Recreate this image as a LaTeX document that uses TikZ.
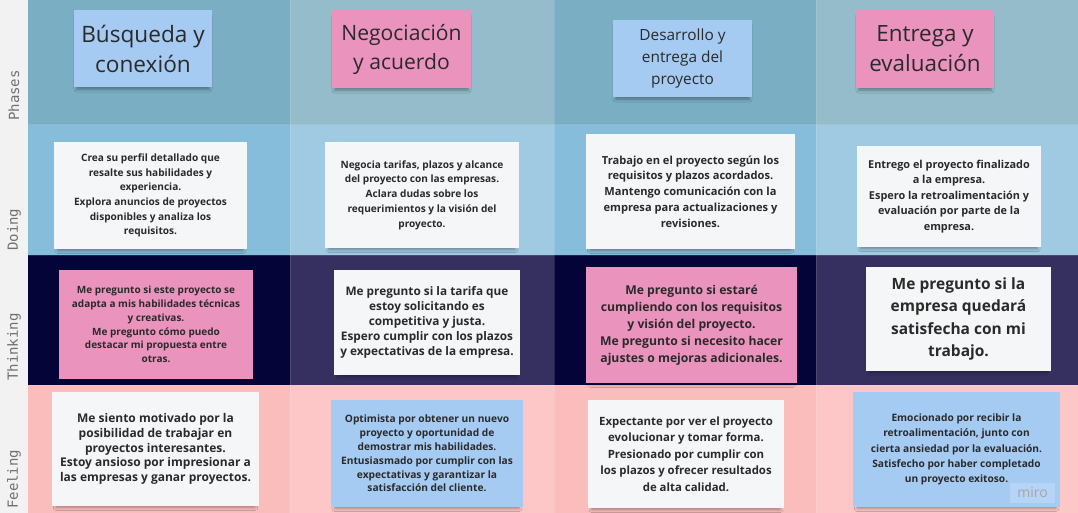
\documentclass[tikz,border=0pt]{standalone}
\usepackage{fontspec}
\setmainfont{Open Sans}
\setmonofont{DejaVu Sans Mono}
\usetikzlibrary{shadows.blur}
\definecolor{labelbg}{HTML}{F2F2F2}
\definecolor{phA}{HTML}{7AAEC3}
\definecolor{phB}{HTML}{94BCCB}
\definecolor{doA}{HTML}{86BDDB}
\definecolor{doB}{HTML}{A0CAE2}
\definecolor{thA}{HTML}{050438}
\definecolor{thB}{HTML}{353060}
\definecolor{feA}{HTML}{FBBCBC}
\definecolor{feB}{HTML}{FCC7C6}
\definecolor{sblue}{HTML}{A6CBF3}
\definecolor{spink}{HTML}{EA94BD}
\definecolor{swhite}{HTML}{F5F6F8}
\definecolor{txt}{HTML}{2A2A2A}
\definecolor{lbl}{HTML}{707070}
\tikzset{
  sticky/.style={inner sep=0pt, align=center, text=txt,
    blur shadow={shadow xshift=0pt, shadow yshift=-4pt, shadow blur radius=3pt, shadow opacity=35, shadow scale=0.96}},
  phasetxt/.style 2 args={font=\fontsize{#1}{#2}\selectfont},
  cardtxt/.style 2 args={font=\fontsize{#1}{#2}\selectfont\bfseries},
  rowlabel/.style={rotate=90, anchor=west, inner sep=0pt, text=lbl, font=\ttfamily\fontsize{14}{16}\selectfont},
  gridline/.style={white, opacity=0.12, line width=1pt}
}
\begin{document}
\begin{tikzpicture}[x=1pt,y=-1pt]
\useasboundingbox (0,0) rectangle (1078,513);
% backgrounds
\fill[labelbg] (0,0) rectangle (28,513);
\fill[phA] (28,0) rectangle (290,125);
\fill[phB] (290,0) rectangle (554,125);
\fill[phA] (554,0) rectangle (816,125);
\fill[phB] (816,0) rectangle (1078,125);
\fill[doA] (28,125) rectangle (290,255);
\fill[doB] (290,125) rectangle (554,255);
\fill[doA] (554,125) rectangle (816,255);
\fill[doB] (816,125) rectangle (1078,255);
\fill[thA] (28,255) rectangle (290,385);
\fill[thB] (290,255) rectangle (554,385);
\fill[thA] (554,255) rectangle (816,385);
\fill[thB] (816,255) rectangle (1078,385);
\fill[feA] (28,385) rectangle (290,513);
\fill[feB] (290,385) rectangle (554,513);
\fill[feA] (554,385) rectangle (816,513);
\fill[feB] (816,385) rectangle (1078,513);
\foreach \yy in {125,255,385} \draw[gridline] (28,\yy) -- (1078,\yy);
\foreach \xx in {290,554,816} \draw[gridline] (\xx,0) -- (\xx,513);
% row labels
\node[rowlabel] (lp) at (14,121) {Phases};
\node[rowlabel] (ld) at (14,251) {Doing};
\node[rowlabel] (lt) at (14,381) {Thinking};
\node[rowlabel] (lf) at (14,509) {Feeling};
% phases
\node[sticky, fill=sblue, minimum width=138pt, minimum height=77pt, phasetxt={22.6}{30}] (p1) at (143,48.5) {Búsqueda y\\conexión};
\node[sticky, fill=spink, minimum width=139pt, minimum height=78pt, phasetxt={21.1}{29}] (p2) at (401.5,49) {Negociación\\y acuerdo};
\node[sticky, fill=sblue, minimum width=139pt, minimum height=77pt, phasetxt={15.4}{21.8}] (p3) at (682.5,58.5) {Desarrollo y\\entrega del\\proyecto};
\node[sticky, fill=spink, minimum width=138pt, minimum height=78pt, phasetxt={22.4}{30}] (p4) at (925,49) {Entrega y\\evaluación};
% doing
\node[sticky, fill=swhite, minimum width=193pt, minimum height=107pt, cardtxt={10.1}{14.6}] (d1) at (150.5,195.5) {Crea su perfil detallado que\\resalte sus habilidades y\\experiencia.\\Explora anuncios de proyectos\\disponibles y analiza los\\requisitos.};
\node[sticky, fill=swhite, minimum width=194pt, minimum height=106pt, cardtxt={10.1}{14.8}] (d2) at (422,195) {Negocia tarifas, plazos y alcance\\del proyecto con las empresas.\\Aclara dudas sobre los\\requerimientos y la visión del\\proyecto.};
\node[sticky, fill=swhite, minimum width=209pt, minimum height=115pt, cardtxt={11.1}{15.8}] (d3) at (690.5,191.5) {Trabajo en el proyecto según los\\requisitos y plazos acordados.\\Mantengo comunicación con la\\empresa para actualizaciones y\\revisiones.};
\node[sticky, fill=swhite, minimum width=184pt, minimum height=101pt, cardtxt={10.9}{15.5}] (d4) at (949,196.5) {Entrego el proyecto finalizado\\a la empresa.\\Espero la retroalimentación y\\evaluación por parte de la\\empresa.};
% thinking
\node[sticky, fill=spink, minimum width=194pt, minimum height=109pt, cardtxt={10}{13.8}] (t1) at (156,324.5) {Me pregunto si este proyecto se\\adapta a mis habilidades técnicas\\y creativas.\\Me pregunto cómo puedo\\destacar mi propuesta entre\\otras.};
\node[sticky, fill=swhite, minimum width=186pt, minimum height=105pt, cardtxt={11.8}{15.2}] (t2) at (427,322.5) {Me pregunto si la tarifa que\\estoy solicitando es\\competitiva y justa.\\Espero cumplir con los plazos\\y expectativas de la empresa.};
\node[sticky, fill=spink, minimum width=211pt, minimum height=116pt, cardtxt={12.2}{17}] (t3) at (691.5,325) {Me pregunto si estaré\\cumpliendo con los requisitos\\y visión del proyecto.\\Me pregunto si necesito hacer\\ajustes o mejoras adicionales.};
\node[sticky, fill=swhite, minimum width=185pt, minimum height=104pt, cardtxt={15.5}{22.4}] (t4) at (958.5,319) {Me pregunto si la\\empresa quedará\\satisfecha con mi\\trabajo.};
% feeling
\node[sticky, fill=swhite, minimum width=207pt, minimum height=114pt, cardtxt={12}{14.8}] (f1) at (155.5,449) {Me siento motivado por la\\posibilidad de trabajar en\\proyectos interesantes.\\Estoy ansioso por impresionar a\\las empresas y ganar proyectos.};
\node[sticky, fill=sblue, minimum width=192pt, minimum height=107pt, cardtxt={10.2}{13.8}] (f2) at (427,453.5) {Optimista por obtener un nuevo\\proyecto y oportunidad de\\demostrar mis habilidades.\\Entusiasmado por cumplir con las\\expectativas y garantizar la\\satisfacción del cliente.};
\node[sticky, fill=swhite, minimum width=196pt, minimum height=108pt, cardtxt={11.4}{16.6}] (f3) at (686,454) {Expectante por ver el proyecto\\evolucionar y tomar forma.\\Presionado por cumplir con\\los plazos y ofrecer resultados\\de alta calidad.};
\node[sticky, fill=sblue, minimum width=207pt, minimum height=115pt, cardtxt={10.2}{15.4}] (f4) at (956.5,449.5) {Emocionado por recibir la\\retroalimentación, junto con\\cierta ansiedad por la evaluación.\\Satisfecho por haber completado\\un proyecto exitoso.};
% watermark
\fill[white, opacity=0.18] (1010,483) rectangle (1055,503);
\node[text=black!35, font=\fontsize{14}{16}\selectfont, inner sep=0pt] (wm) at (1032.5,492.5) {miro};
\end{tikzpicture}
\end{document}
